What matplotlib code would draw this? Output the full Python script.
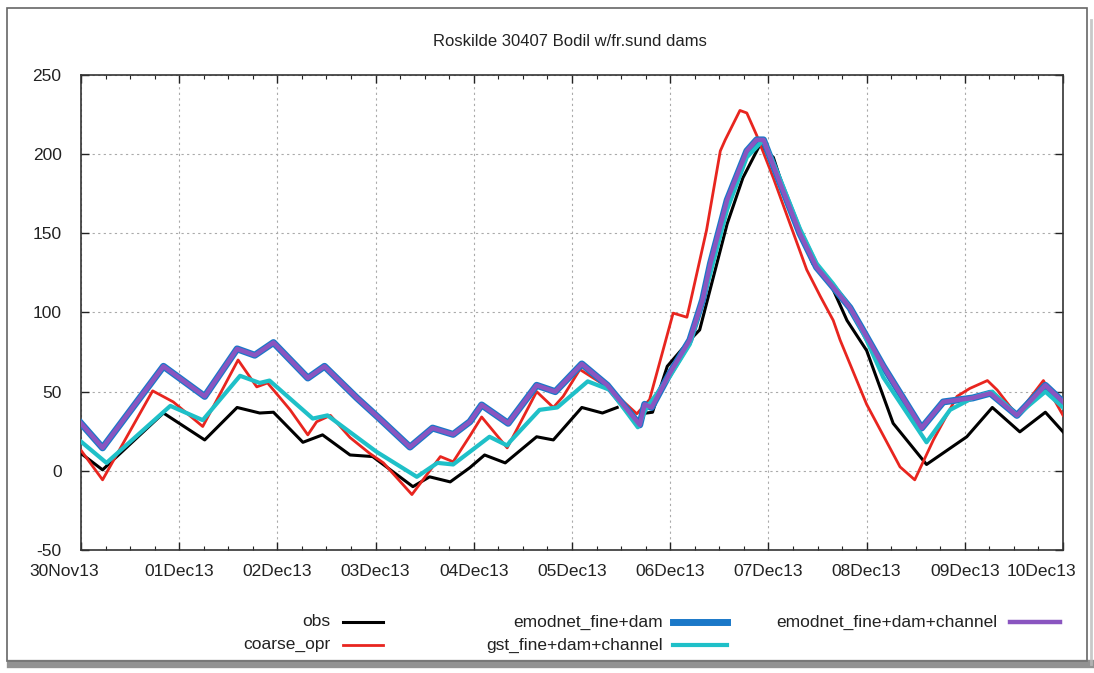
import numpy as np
import matplotlib
matplotlib.use("Agg")
import matplotlib.pyplot as plt
import matplotlib.dates as mdates
import matplotlib.transforms as mtransforms
from matplotlib.lines import Line2D
from matplotlib.patches import Rectangle
from datetime import datetime

plt.rcParams['font.family'] = ['Liberation Sans', 'DejaVu Sans']
plt.rcParams['axes.unicode_minus'] = False

# days since 30Nov13 00:00, water level values
obs_t = [0, 0.22, 0.84, 1.26, 1.59, 1.82, 1.96, 2.26, 2.46, 2.74, 2.97, 3.38, 3.55, 3.76,
         3.96, 4.11, 4.32, 4.64, 4.81, 5.10, 5.31, 5.46, 5.50, 5.76, 5.82, 5.97, 6.20, 6.30,
         6.58, 6.74, 6.91, 7.05, 7.19, 7.45, 7.63, 7.80, 8.00, 8.27, 8.61, 9.02, 9.28, 9.56,
         9.82, 10.0]
obs_v = [11, 0.6, 36.5, 19.5, 40, 36.5, 37, 18, 22.7, 10, 9, -10, -3.8, -7,
         2, 10, 5, 21.5, 19.5, 40, 36.5, 40, np.nan, 36.5, 37, 66, 82.6, 89,
         156, 185, 205.5, 198, 171, 131, 118.5, 95, 76, 30, 4, 21.5, 40, 24.6,
         37, 24.6]

coarse_t = [0, 0.22, 0.73, 0.94, 1.24, 1.60, 1.79, 1.90, 2.13, 2.31, 2.40, 2.54, 2.74, 2.94,
            3.08, 3.37, 3.66, 3.79, 3.96, 4.08, 4.34, 4.64, 4.81, 4.91, 5.08, 5.36, 5.66,
            5.79, 6.03, 6.17, 6.20, 6.37, 6.51, 6.56, 6.71, 6.78, 6.88, 7.05, 7.22, 7.39,
            7.53, 7.66, 7.73, 8.00, 8.34, 8.49, 8.68, 8.92, 9.05, 9.23, 9.33, 9.53, 9.80, 10.0]
coarse_v = [13, -5.7, 50.5, 43.5, 28, 70, 53, 55.5, 38.5, 22.7, 31, 35, 21, 11,
            5, -15, 9, 5.7, 22, 34, 14.5, 50, 40, 47, 64, 53, 36,
            45, 99.6, 97, 105, 152, 202, 209, 227.6, 226, 212, 185, 156, 127,
            110, 95, 82.6, 42, 2.5, -5.7, 19.5, 47, 52, 57, 51, 35, 57, 35]

emod_t = [0, 0.22, 0.84, 1.26, 1.59, 1.77, 1.96, 2.31, 2.48, 2.81, 3.04, 3.35, 3.58, 3.79,
          3.96, 4.08, 4.35, 4.64, 4.83, 5.10, 5.36, 5.69, 5.74, 5.81, 6.00, 6.20, 6.33,
          6.41, 6.58, 6.78, 6.88, 6.95, 7.12, 7.32, 7.49, 7.66, 7.83, 7.96, 8.17, 8.56,
          8.78, 9.08, 9.26, 9.53, 9.82, 10.0]
emod_v = [30, 14.5, 66, 47, 77, 73, 81, 58.6, 66, 46, 33, 15, 27, 23,
          31, 41.6, 30, 54, 50, 67.5, 54, 29, 42, 40, 62, 82.6, 108,
          131, 171, 202, 209, 209, 181.6, 150, 128.6, 116, 103, 89, 66, 27,
          43.5, 46, 49, 35, 54, 43.5]

emodch_t = [0, 0.22, 0.84, 1.26, 1.59, 1.77, 1.96, 2.31, 2.48, 2.81, 3.04, 3.35, 3.58, 3.79,
            3.96, 4.08, 4.35, 4.64, 4.83, 5.10, 5.36, 5.69, 5.74, 5.81, 6.00, 6.20, 6.33,
            6.41, 6.58, 6.78, 6.88, 6.95, 7.12, 7.32, 7.49, 7.66, 7.83, 7.96, 8.17, 8.56,
            8.78, 9.08, 9.26, 9.53, 9.82, 10.0]
emodch_v = [30, 14.5, 66, 47, 77, 73, 81, 58.6, 66, 46, 33, 15, 27, 23,
            31, 41.6, 30, 54, 50, 67.5, 54, 29, 42, 40, 62, 82.6, 108,
            131, 171, 202, 209, 209, 181.6, 150, 128.6, 116, 103, 89, 66, 27,
            43.5, 46, 49, 35, 54, 43.5]

gst_t = [0, 0.26, 0.91, 1.24, 1.62, 1.82, 1.92, 2.36, 2.51, 3.01, 3.42, 3.63, 3.79, 3.96,
         4.16, 4.34, 4.37, 4.67, 4.85, 5.16, 5.39, 5.67, 5.76, 6.00, 6.20, 6.41, 6.58,
         6.78, 6.95, 7.12, 7.32, 7.49, 7.66, 7.83, 7.96, 8.17, 8.61, 8.85, 9.08, 9.28,
         9.53, 9.82, 10.0]
gst_v = [18.5, 5, 41, 32, 60, 55.5, 57, 33, 35, 12, -3.8, 5, 4, 12,
         21.5, 16, 18.5, 38.5, 40, 56.5, 51, 27.5, 40, 60, 80, 125, 165,
         198, 209, 184, 153, 131, 118, 103, 88, 59, 18, 38.5, 46, 50,
         35, 50, 40]

t0 = mdates.date2num(datetime(2013, 11, 30))

fig = plt.figure(figsize=(10.94, 6.73), dpi=100)
ax = fig.add_axes([0.074, 0.1828, 0.8977, 0.7058])

ax.plot(t0 + np.array(obs_t), obs_v, color='black', lw=2.2, zorder=3)
ax.plot(t0 + np.array(coarse_t), coarse_v, color='#e8251f', lw=2.0, zorder=4)
ax.plot(t0 + np.array(emod_t), emod_v, color='#1a78c8', lw=5.0, zorder=5)
ax.plot(t0 + np.array(gst_t), gst_v, color='#1fc0c8', lw=3.0, zorder=6)
ax.plot(t0 + np.array(emodch_t), emodch_v, color='#8a55c0', lw=3.2, zorder=7)

ax.set_xlim(t0, t0 + 10)
ax.set_ylim(-50, 250)
ax.set_yticks([-50, 0, 50, 100, 150, 200, 250])
ax.xaxis.set_major_locator(mdates.DayLocator())
ax.xaxis.set_minor_locator(mdates.HourLocator(byhour=[6, 12, 18]))
ax.xaxis.set_major_formatter(mdates.DateFormatter('%d%b%y'))

ax.tick_params(which='both', direction='in', top=True, right=True, labelsize=12.5,
               colors='#222222')
ax.tick_params(axis='x', which='major', pad=10)
ax.tick_params(axis='y', which='major', pad=14)
ax.tick_params(which='major', length=6, width=1)
ax.tick_params(which='minor', length=3, width=0.8)
ax.grid(True, which='major', color='#aaaaaa', linestyle=(0, (2, 3)), lw=0.8)
for s in ax.spines.values():
    s.set_color('#333333')
    s.set_linewidth(1.2)

# first and last date labels are nudged left like in the original
fig.canvas.draw()
xlabels = ax.get_xticklabels()
xlabels[0].set_transform(xlabels[0].get_transform() +
                         mtransforms.ScaledTranslation(-0.17, 0, fig.dpi_scale_trans))
xlabels[-1].set_transform(xlabels[-1].get_transform() +
                          mtransforms.ScaledTranslation(-0.22, 0, fig.dpi_scale_trans))

fig.text(0.521, 0.9376, 'Roskilde 30407 Bodil w/fr.sund dams', ha='center', va='center',
         fontsize=12, color='#222222')

# gnuplot style legend, text then sample line
legend_items = [
    ('obs', 'black', 2.2, 330, 343, 383, 622),
    ('coarse_opr', '#e8251f', 2.0, 330, 343, 383, 645),
    ('emodnet_fine+dam', '#1a78c8', 5.0, 663, 673, 727, 622),
    ('gst_fine+dam+channel', '#1fc0c8', 3.0, 663, 673, 727, 645),
    ('emodnet_fine+dam+channel', '#8a55c0', 3.2, 997, 1010, 1060, 622),
]
W, H = 1094, 673
for label, col, lw, tx, x0, x1, y in legend_items:
    fy = 1 - y / H
    fig.text(tx / W, fy, label, ha='right', va='center', fontsize=12.5, color='#222222')
    fig.add_artist(Line2D([x0 / W, x1 / W], [fy, fy], color=col, lw=lw,
                          transform=fig.transFigure))

# screenshot frame with shadow
fig.add_artist(Rectangle((0.006, 0.018), 0.988, 0.97, transform=fig.transFigure,
                         fill=False, edgecolor='#666666', lw=1.2))
fig.add_artist(Line2D([0.01, 0.997], [0.013, 0.013], color='#777777', lw=6,
                      alpha=0.8, transform=fig.transFigure))
fig.add_artist(Line2D([0.997, 0.997], [0.013, 0.97], color='#bbbbbb', lw=2,
                      alpha=0.8, transform=fig.transFigure))

fig.savefig('out.png', dpi=100)
